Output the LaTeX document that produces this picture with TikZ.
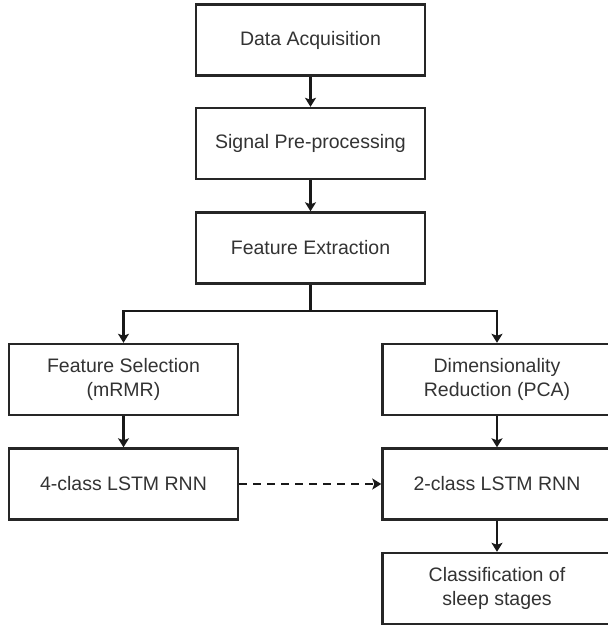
\documentclass[tikz,border=0pt]{standalone}
\usepackage{fontspec}
\setmainfont{Liberation Sans}
\usetikzlibrary{arrows.meta}
\begin{document}
\begin{tikzpicture}[x=1pt,y=-1pt,
  box/.style={draw=black!85, line width=2.4pt, fill=white, minimum width=229pt, minimum height=71pt,
    inner sep=0pt, align=center, text=black!80, font=\fontsize{19.5}{23.5}\selectfont},
  conn/.style={draw=black!90, line width=2.2pt, -{Stealth[length=9pt,width=11pt,inset=2pt]}},
  plain/.style={draw=black!90, line width=2.2pt}]
\useasboundingbox (0,0) rectangle (608,627);
\clip (0,0) rectangle (608,627);
\node[box] (da) at (310.5,40) {Data Acquisition};
\node[box] (sp) at (310.5,143.5) {Signal Pre-processing};
\node[box] (fe) at (310.5,248) {Feature Extraction};
\node[box] (fs) at (123.5,379.5) {Feature Selection\\(mRMR)};
\node[box] (l4) at (123.5,484) {4-class LSTM RNN};
\node[box] (dr) at (497,379.5) {Dimensionality\\Reduction (PCA)};
\node[box] (l2) at (497,484) {2-class LSTM RNN};
\node[box] (cl) at (497,588.5) {Classification of\\sleep stages};
\coordinate (split) at (310.5,311);
\draw[conn] (da) -- (sp);
\draw[conn] (sp) -- (fe);
\draw[plain] (fe.south) -- (split);
\draw[conn] (split) -| (fs.north);
\draw[conn] (split) -| (dr.north);
\draw[conn] (fs) -- (l4);
\draw[conn] (dr) -- (l2);
\draw[conn] (l2) -- (cl);
\draw[conn, dash pattern=on 8pt off 6pt] (l4) -- (l2);
\end{tikzpicture}
\end{document}
